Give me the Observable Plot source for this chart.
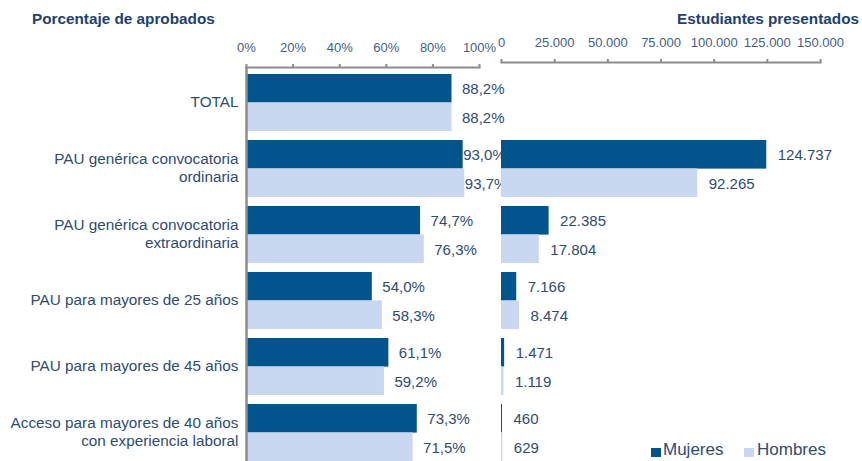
<!DOCTYPE html>
<html>
<head>
<meta charset="utf-8">
<script src="https://cdn.jsdelivr.net/npm/d3@7"></script>
<script src="https://cdn.jsdelivr.net/npm/@observablehq/plot@0.6"></script>
<style>
  html, body { margin: 0; padding: 0; background: #ffffff; }
  #wrap { position: relative; width: 862px; height: 461px; overflow: hidden; font-family: "Liberation Sans", Arial, sans-serif; }
  #wrap svg { position: absolute; left: 0; top: 0; overflow: visible; background: transparent; }
  .title { position: absolute; top: 11px; font-size: 15.3px; font-weight: bold; color: #1f416d; line-height: 15px; white-space: nowrap; }
  .leg { position: absolute; top: 441px; font-size: 17px; color: #2f4c70; line-height: 18px; white-space: nowrap; }
  .sw { position: absolute; width: 10px; height: 9px; top: 448px; }
</style>
</head>
<body>
<div id="wrap">
  <div class="title" style="left:32px;">Porcentaje de aprobados</div>
  <div class="title" style="right:3px;">Estudiantes presentados</div>
</div>
<script>
const categories = [
  "TOTAL",
  "PAU genérica convocatoria\nordinaria",
  "PAU genérica convocatoria\nextraordinaria",
  "PAU para mayores de 25 años",
  "PAU para mayores de 45 años",
  "Acceso para mayores de 40 años\ncon experiencia laboral"
];
const series = ["Mujeres", "Hombres"];
const aprobadosMujeres = [88.2, 93.0, 74.7, 54.0, 61.1, 73.3];
const aprobadosHombres = [88.2, 93.7, 76.3, 58.3, 59.2, 71.5];
const presentadosMujeres = [null, 124737, 22385, 7166, 1471, 460];
const presentadosHombres = [null, 92265, 17804, 8474, 1119, 629];
const pctTicks = [0, 20, 40, 60, 80, 100];
const numTicks = [0, 25000, 50000, 75000, 100000, 125000, 150000];

const colorMujeres = "#02548d";
const colorHombres = "#c9d7f0";
const textColor = "#2f4c70";
const tickText = "#3f5f85";
const axisGray = "#8c8c8c";
const font = "'Liberation Sans', Arial, sans-serif";

const loc = d3.formatLocale({decimal: ",", thousands: ".", grouping: [3], currency: ["", "€"]});
const fmtPct = v => loc.format(".1f")(v) + "%";
const fmtN = loc.format(",d");

const muj = categories.map((c, i) => ({cat: c, sexo: series[0], pct: aprobadosMujeres[i], n: presentadosMujeres[i]}));
const hom = categories.map((c, i) => ({cat: c, sexo: series[1], pct: aprobadosHombres[i], n: presentadosHombres[i]}));
const mujN = muj.filter(d => d.n != null);
const homN = hom.filter(d => d.n != null);

const yScale = {domain: categories, range: [73.3, 460.7], paddingInner: 0.14, paddingOuter: 0, axis: null};
const half = 28.4;
const style = {fontFamily: font, background: "transparent", overflow: "visible"};

const left = Plot.plot({
  width: 862, height: 461,
  marginLeft: 246, marginRight: 383, marginTop: 67, marginBottom: 0,
  style,
  x: {domain: [0, 100], axis: null},
  y: yScale,
  marks: [
    Plot.barX(muj, {x: "pct", y: "cat", fill: colorMujeres, insetBottom: half, insetTop: 0}),
    Plot.barX(hom, {x: "pct", y: "cat", fill: colorHombres, insetTop: half, insetBottom: 0}),
    Plot.text(muj.filter(d => d.pct < 90), {x: "pct", y: "cat", text: d => fmtPct(d.pct), dy: -13.7, dx: 10, textAnchor: "start", fontSize: 15, fill: textColor}),
    Plot.text(muj.filter(d => d.pct >= 90), {x: "pct", y: "cat", text: d => fmtPct(d.pct), dy: -13.7, dx: 0, textAnchor: "start", fontSize: 15, fill: textColor}),
    Plot.text(hom.filter(d => d.pct < 90), {x: "pct", y: "cat", text: d => fmtPct(d.pct), dy: 14.7, dx: 10, textAnchor: "start", fontSize: 15, fill: textColor}),
    Plot.text(hom.filter(d => d.pct >= 90), {x: "pct", y: "cat", text: d => fmtPct(d.pct), dy: 14.7, dx: 0, textAnchor: "start", fontSize: 15, fill: textColor}),
    Plot.text(categories, {y: d => d, text: d => d, frameAnchor: "left", dx: -8, dy: -2, textAnchor: "end", fontSize: 15.3, lineHeight: 1.2, fill: textColor}),
    Plot.ruleX([0], {stroke: axisGray, strokeWidth: 2.5}),
    Plot.frame({anchor: "top", stroke: axisGray, strokeWidth: 2}),
    Plot.axisX({anchor: "top", ticks: pctTicks, tickFormat: d => d + "%", tickSize: 4, tickPadding: 12, fontSize: 13, stroke: axisGray, strokeWidth: 2, fill: tickText, label: null})
  ]
});

const right = Plot.plot({
  width: 862, height: 461,
  marginLeft: 501, marginRight: 42, marginTop: 62, marginBottom: 0,
  style,
  x: {domain: [0, 150000], axis: null},
  y: yScale,
  marks: [
    Plot.barX(mujN, {x: "n", y: "cat", fill: colorMujeres, insetBottom: half, insetTop: 0}),
    Plot.barX(homN, {x: "n", y: "cat", fill: colorHombres, insetTop: half, insetBottom: 0}),
    Plot.text(mujN, {x: "n", y: "cat", text: d => fmtN(d.n), dy: -13.7, dx: 11, textAnchor: "start", fontSize: 15, fill: textColor}),
    Plot.text(homN, {x: "n", y: "cat", text: d => fmtN(d.n), dy: 14.7, dx: 11, textAnchor: "start", fontSize: 15, fill: textColor}),
    Plot.frame({anchor: "top", stroke: axisGray, strokeWidth: 2}),
    Plot.axisX({anchor: "top", ticks: numTicks, tickFormat: fmtN, tickSize: 4, tickPadding: 12, fontSize: 13, stroke: axisGray, strokeWidth: 2, fill: tickText, label: null})
  ]
});

const wrap = document.getElementById("wrap");
wrap.appendChild(left);
wrap.appendChild(right);

// legend
const legendItems = [
  {name: series[0], color: colorMujeres, sw: 651, tx: 663},
  {name: series[1], color: colorHombres, sw: 744, tx: 757}
];
for (const it of legendItems) {
  const s = document.createElement("div");
  s.className = "sw"; s.style.left = it.sw + "px"; s.style.background = it.color;
  wrap.appendChild(s);
  const t = document.createElement("div");
  t.className = "leg"; t.style.left = it.tx + "px"; t.textContent = it.name;
  wrap.appendChild(t);
}
</script>
</body>
</html>
